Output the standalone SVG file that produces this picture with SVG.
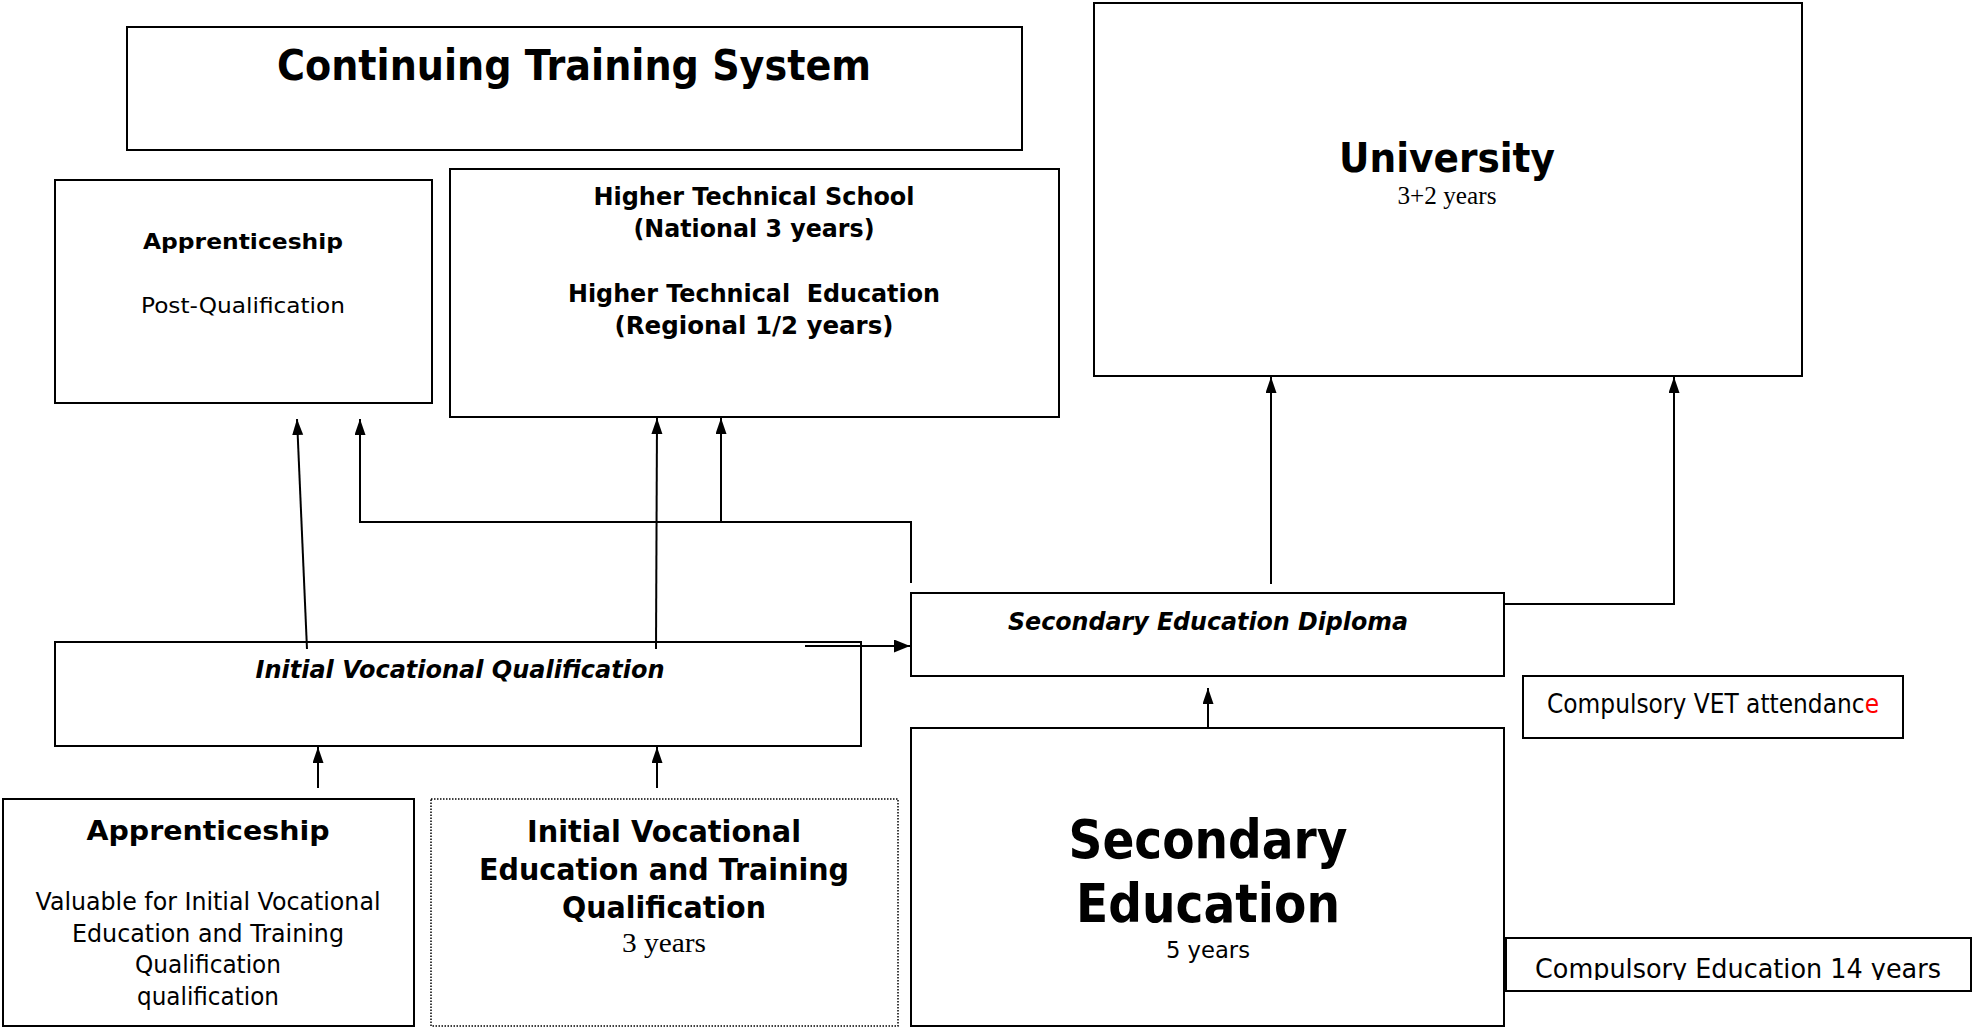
<svg xmlns="http://www.w3.org/2000/svg" width="1972" height="1027" viewBox="0 0 1972 1027">
<style>
.box{fill:#fff;stroke:#000;stroke-width:2}
.dot{fill:#fff;stroke:#000;stroke-width:1.5;stroke-dasharray:1.5 1.5}
.t{font-family:"DejaVu Sans","Liberation Sans",sans-serif;fill:#000;text-anchor:middle}
.b{font-weight:bold}
.i{font-style:italic}
.s{font-family:"Liberation Serif","Times New Roman",serif;fill:#000;text-anchor:middle}
.c{fill:none;stroke:#000;stroke-width:2}
.red{fill:#ff0000}
</style>
<defs>
<marker id="ah" markerUnits="userSpaceOnUse" markerWidth="16" markerHeight="12" refX="16" refY="5.5" orient="auto">
<path d="M0,0 L16,5.5 L0,11 z" fill="#000"/>
</marker>
<marker id="ahb" markerUnits="userSpaceOnUse" markerWidth="16" markerHeight="14" refX="16" refY="6.5" orient="auto">
<path d="M0,0 L16,6.5 L0,13 z" fill="#000"/>
</marker>
<clipPath id="clipCE"><rect x="1506" y="938" width="466" height="42"/></clipPath>
</defs>

<g id="continuing-training">
<rect class="box" x="127" y="27" width="895" height="123"/>
<text class="t b" x="574" y="80" font-size="42" textLength="594" lengthAdjust="spacingAndGlyphs">Continuing Training System</text>
</g>

<g id="apprenticeship-post">
<rect class="box" x="55" y="180" width="377" height="223"/>
<text class="t b" x="243" y="249" font-size="22" textLength="200" lengthAdjust="spacingAndGlyphs">Apprenticeship</text>
<text class="t" x="243" y="313" font-size="22" textLength="204" lengthAdjust="spacingAndGlyphs">Post-Qualification</text>
</g>

<g id="higher-technical">
<rect class="box" x="450" y="169" width="609" height="248"/>
<text class="t b" x="754" y="205" font-size="24" textLength="321" lengthAdjust="spacingAndGlyphs">Higher Technical School</text>
<text class="t b" x="754" y="237" font-size="24" textLength="241" lengthAdjust="spacingAndGlyphs">(National 3 years)</text>
<text class="t b" x="754" y="302" font-size="24" textLength="372" lengthAdjust="spacingAndGlyphs" xml:space="preserve">Higher Technical  Education</text>
<text class="t b" x="754" y="334" font-size="24" textLength="279" lengthAdjust="spacingAndGlyphs">(Regional 1/2 years)</text>
</g>

<g id="university">
<rect class="box" x="1094" y="3" width="708" height="373"/>
<text class="t b" x="1447" y="172" font-size="41" textLength="216" lengthAdjust="spacingAndGlyphs">University</text>
<text class="s" x="1447" y="204" font-size="25" textLength="99" lengthAdjust="spacingAndGlyphs">3+2 years</text>
</g>

<g id="initial-vocational-qualification">
<rect class="box" x="55" y="642" width="806" height="104"/>
<text class="t b i" x="460" y="678" font-size="24" textLength="409" lengthAdjust="spacingAndGlyphs">Initial Vocational Qualification</text>
</g>

<g id="secondary-diploma">
<rect class="box" x="911" y="593" width="593" height="83"/>
<text class="t b i" x="1208" y="630" font-size="24" textLength="400" lengthAdjust="spacingAndGlyphs">Secondary Education Diploma</text>
</g>

<g id="compulsory-vet">
<rect class="box" x="1523" y="676" width="380" height="62"/>
<text class="t" x="1713" y="713" font-size="26" textLength="332" lengthAdjust="spacingAndGlyphs">Compulsory VET attendanc<tspan class="red" style="fill:#ff0000">e</tspan></text>
</g>

<g id="secondary-education">
<rect class="box" x="911" y="728" width="593" height="298"/>
<text class="t b" x="1208" y="858" font-size="54" textLength="279" lengthAdjust="spacingAndGlyphs">Secondary</text>
<text class="t b" x="1208" y="922" font-size="54" textLength="264" lengthAdjust="spacingAndGlyphs">Education</text>
<text class="t" x="1208" y="958" font-size="23" textLength="84" lengthAdjust="spacingAndGlyphs">5 years</text>
</g>

<g id="compulsory-education">
<rect class="box" x="1506" y="938" width="465" height="53"/>
<text class="t" x="1738" y="978" font-size="27" textLength="406" lengthAdjust="spacingAndGlyphs" clip-path="url(#clipCE)">Compulsory Education 14 years</text>
</g>

<g id="apprenticeship-initial">
<rect class="box" x="3" y="799" width="411" height="227"/>
<text class="t b" x="208" y="840" font-size="26" textLength="243" lengthAdjust="spacingAndGlyphs">Apprenticeship</text>
<text class="t" x="208" y="910" font-size="25" textLength="345" lengthAdjust="spacingAndGlyphs">Valuable for Initial Vocational</text>
<text class="t" x="208" y="942" font-size="25" textLength="272" lengthAdjust="spacingAndGlyphs">Education and Training</text>
<text class="t" x="208" y="973" font-size="25" textLength="146" lengthAdjust="spacingAndGlyphs">Qualification</text>
<text class="t" x="208" y="1005" font-size="25" textLength="142" lengthAdjust="spacingAndGlyphs">qualification</text>
</g>

<g id="ivet-qualification">
<rect class="dot" x="431" y="799" width="467" height="227"/>
<text class="t b" x="664" y="842" font-size="31" textLength="274" lengthAdjust="spacingAndGlyphs">Initial Vocational</text>
<text class="t b" x="664" y="880" font-size="31" textLength="370" lengthAdjust="spacingAndGlyphs">Education and Training</text>
<text class="t b" x="664" y="918" font-size="31" textLength="204" lengthAdjust="spacingAndGlyphs">Qualification</text>
<text class="s" x="664" y="952" font-size="27" textLength="84" lengthAdjust="spacingAndGlyphs">3 years</text>
</g>

<g id="connectors">
<path class="c" d="M307,649 L297,419" marker-end="url(#ah)"/>
<path class="c" d="M911,583 L911,522 L360,522 L360,419" marker-end="url(#ah)"/>
<path class="c" d="M656,649 L657,418" marker-end="url(#ah)"/>
<path class="c" d="M721,522 L721,418" marker-end="url(#ah)"/>
<path class="c" d="M805,646 L910,646" stroke-width="3" marker-end="url(#ahb)"/>
<path class="c" d="M1271,584 L1271,377" marker-end="url(#ah)"/>
<path class="c" d="M1504,604 L1674,604 L1674,377" marker-end="url(#ah)"/>
<path class="c" d="M1208,728 L1208,688" marker-end="url(#ah)"/>
<path class="c" d="M318,788 L318,747" marker-end="url(#ah)"/>
<path class="c" d="M657,788 L657,747" marker-end="url(#ah)"/>
</g>
</svg>
